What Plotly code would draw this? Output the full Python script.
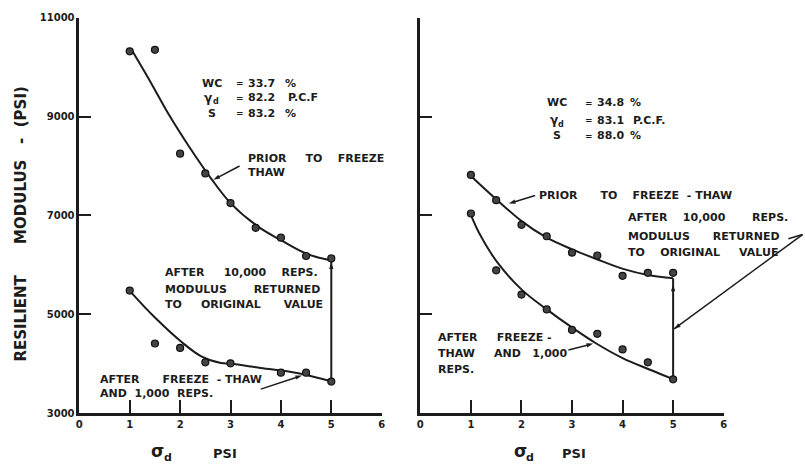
import plotly.graph_objects as go

# Deviator stress levels (psi)
stress = [1, 1.5, 2, 2.5, 3, 3.5, 4, 4.5, 5]

# Specimen A -- measured resilient modulus (psi)
a_prior = [10320, 10350, 8250, 7850, 7250, 6750, 6550, 6180, 6130]
a_after_stress = [1, 1.5, 2, 2.5, 3, 4, 4.5, 5]
a_after = [5480, 4410, 4320, 4030, 4010, 3820, 3820, 3640]

# Specimen A -- hand-fitted curves
a_prior_fit_x = [1.05, 1.44, 1.77, 2.16, 2.62, 3.01, 3.54, 4.0, 4.52, 5.0]
a_prior_fit_y = [10330, 9650, 9050, 8420, 7740, 7240, 6780, 6500, 6220, 6090]
a_after_fit_x = [1.04, 1.5, 2.03, 2.42, 2.81, 3.01, 3.6, 4.32, 5.0]
a_after_fit_y = [5430, 4935, 4440, 4150, 4015, 4000, 3915, 3815, 3645]

# Specimen B -- measured resilient modulus (psi)
b_prior = [7820, 7310, 6810, 6580, 6250, 6190, 5780, 5840, 5840]
b_after = [7040, 5890, 5400, 5100, 4685, 4605, 4290, 4030, 3685]

# Specimen B -- hand-fitted curves
b_prior_fit_x = [1.0, 1.51, 2.01, 2.5, 2.99, 3.48, 4.01, 4.53, 5.0]
b_prior_fit_y = [7800, 7320, 6880, 6550, 6320, 6120, 5920, 5790, 5730]
b_after_fit_x = [1.0, 1.16, 1.52, 2.01, 2.5, 2.99, 3.48, 4.01, 4.53, 5.0]
b_after_fit_y = [7010, 6650, 6055, 5495, 5100, 4740, 4410, 4110, 3885, 3690]

# Specimen properties: water content (%), dry unit weight (pcf), saturation (%)
a_props = ["33.7", "82.2", "83.2"]
b_props = ["34.8", "83.1", "88.0"]
a_units = ["%", "P.C.F", "%"]
b_units = ["%", "P.C.F.", "%"]

x_ticks = [0, 1, 2, 3, 4, 5, 6]
y_ticks = [3000, 5000, 7000, 9000, 11000]
X_RANGE = [0, 6]
Y_RANGE = [3000, 11000]

INK = "#1c1c1c"
FONT = "DejaVu Sans"

fig = go.Figure()
LINE = dict(color=INK, width=2)


def add_panel(xa, ya, px, py, ax_, ay_, fpx, fpy, fax, fay):
    kw = dict(xaxis=xa, yaxis=ya, showlegend=False, hoverinfo="skip")
    fig.add_trace(go.Scatter(x=fpx, y=fpy, mode="lines", line_shape="spline", line=LINE, **kw))
    fig.add_trace(go.Scatter(x=fax, y=fay, mode="lines", line_shape="spline", line=LINE, **kw))
    # recovery after 10,000 repetitions at the highest stress
    fig.add_trace(go.Scatter(x=[fax[-1], fpx[-1]], y=[fay[-1], fpy[-1]], mode="lines", line=LINE, **kw))
    mk = dict(symbol="circle", size=7, color="#444", line=dict(color="#111", width=1.2))
    fig.add_trace(go.Scatter(x=px, y=py, mode="markers", marker=mk, cliponaxis=False, **kw))
    fig.add_trace(go.Scatter(x=ax_, y=ay_, mode="markers", marker=mk, cliponaxis=False, **kw))


add_panel("x", "y", stress, a_prior, a_after_stress, a_after,
          a_prior_fit_x, a_prior_fit_y, a_after_fit_x, a_after_fit_y)
add_panel("x2", "y2", stress, b_prior, stress, b_after,
          b_prior_fit_x, b_prior_fit_y, b_after_fit_x, b_after_fit_y)

tickfont = dict(family=FONT, size=10, color=INK, weight="bold")
axis = dict(showgrid=False, zeroline=False, showline=True, linecolor=INK, linewidth=2.5,
            ticks="inside", tickcolor=INK, tickwidth=2, tickfont=tickfont, fixedrange=True)

x_dom_a = [77 / 805, 382 / 805]
x_dom_b = [421 / 805, 727 / 805]
y_dom = [52 / 470, 457 / 470]

fig.update_layout(
    width=805, height=470,
    margin=dict(l=0, r=0, t=0, b=0),
    paper_bgcolor="white", plot_bgcolor="white",
    xaxis=dict(axis, domain=x_dom_a, range=X_RANGE, tickvals=x_ticks,
               ticktext=[str(v) for v in x_ticks], ticklen=13, anchor="y"),
    yaxis=dict(axis, domain=y_dom, range=Y_RANGE, tickvals=y_ticks,
               ticktext=[str(v) for v in y_ticks], ticklen=12, anchor="x"),
    xaxis2=dict(axis, domain=x_dom_b, range=X_RANGE, tickvals=x_ticks,
                ticktext=[str(v) for v in x_ticks], ticklen=13, anchor="y2"),
    yaxis2=dict(axis, domain=y_dom, range=Y_RANGE, tickvals=y_ticks, ticklen=12, anchor="x2",
                showticklabels=False),
)

NB = "\u00a0"


def sp(*words_and_gaps):
    # words separated by runs of non-breaking spaces
    out = ""
    for item in words_and_gaps:
        out += NB * item if isinstance(item, int) else item
    return out


annotations = []
shapes = []


def note(text, x, y, xr, yr, anchor="left", size=11, yshift=0):
    annotations.append(dict(text=text, x=x, y=y, xref=xr, yref=yr, xanchor=anchor,
                            yanchor="middle", showarrow=False, yshift=yshift,
                            font=dict(family=FONT, size=size, color=INK, weight="bold")))


def arrow_tip(tail, head, xa, ya, with_line=True):
    # a leader line (optional) finished by an arrowhead pointing at `head`
    fig.add_trace(go.Scatter(
        x=[tail[0], head[0]], y=[tail[1], head[1]], xaxis=xa, yaxis=ya,
        mode="lines+markers" if with_line else "markers",
        line=dict(color=INK, width=1.5),
        marker=dict(symbol="arrow", size=[0, 7], opacity=[0, 1], color=INK,
                    angleref="previous", line=dict(width=0)),
        cliponaxis=False, showlegend=False, hoverinfo="skip"))


def dom(x, y):
    return (x - X_RANGE[0]) / (X_RANGE[1] - X_RANGE[0]), (y - Y_RANGE[0]) / (Y_RANGE[1] - Y_RANGE[0])


def props_block(xr, yr, rows_y, name_x, eq_x, val_x, unit_x, values, units):
    note("WC", name_x, rows_y[0], xr, yr, anchor="center")
    note("γ", name_x + 0.05, rows_y[1], xr, yr, anchor="right", size=12)
    note("d", name_x - 0.02, rows_y[1], xr, yr, anchor="left", size=8, yshift=-4)
    note("S", name_x, rows_y[2], xr, yr, anchor="center")
    for yy, val, unit, ux in zip(rows_y, values, units, unit_x):
        note("=", eq_x, yy, xr, yr, anchor="center", size=9)
        note(val, val_x, yy, xr, yr)
        note(unit, ux, yy, xr, yr)


# ---- left panel text ----
props_block("x", "y", [9676, 9379, 9063], 2.63, 3.18, 3.30, [4.05, 4.11, 4.05], a_props, a_units)

note(sp("PRIOR", 5, "TO", 4, "FREEZE"), 3.30, 8155, "x", "y")
note("THAW", 3.30, 7878, "x", "y")
arrow_tip((3.18, 8000), (2.66, 7720), "x", "y")

note(sp("AFTER", 5, "10,000", 4, "REPS."), 1.67, 5844, "x", "y")
note(sp("MODULUS", 7, "RETURNED"), 1.67, 5508, "x", "y")
note(sp("TO", 5, "ORIGINAL", 6, "VALUE"), 1.67, 5192, "x", "y")

note(sp("AFTER", 6, "FREEZE", 2, "-", 1, "THAW"), 0.37, 3691, "x", "y")
note(sp("AND", 2, "1,000", 2, "REPS."), 0.37, 3395, "x", "y")
arrow_tip((3.60, 3487), (4.42, 3764), "x", "y")

# arrowhead on the recovery line
arrow_tip((5, a_prior_fit_y[-1] - 600), (5, a_prior_fit_y[-1] - 40), "x", "y", with_line=False)

# ---- right panel text ----
props_block("x2", "y2", [9281, 8925, 8609], 2.71, 3.34, 3.46, [4.1, 4.17, 4.1], b_props, b_units)

note(sp("PRIOR", 6, "TO", 4, "FREEZE", 2, "-", 1, "THAW"), 2.30, 7404, "x2", "y2")
arrow_tip((2.27, 7404), (1.75, 7240), "x2", "y2")

note(sp("AFTER", 4, "10,000", 7, "REPS."), 4.07, 6950, "x2", "y2")
note(sp("MODULUS", 6, "RETURNED"), 4.07, 6575, "x2", "y2")
note(sp("TO", 4, "ORIGINAL", 5, "VALUE"), 4.07, 6259, "x2", "y2")

note(sp("AFTER", 5, "FREEZE", 1, "-"), 0.31, 4541, "x2", "y2")
note(sp("THAW", 5, "AND", 3, "1,000"), 0.31, 4205, "x2", "y2")
note("REPS.", 0.31, 3889, "x2", "y2")
arrow_tip((2.93, 4277), (3.42, 4408), "x2", "y2")

arrow_tip((5, b_prior_fit_y[-1] - 700), (5, b_prior_fit_y[-1] - 130), "x2", "y2", with_line=False)

# bent leader from "RETURNED" out past the frame and back to the recovery line
bend = (7.56, 6614)
ret_head = (5.02, 4704)
for p0, p1 in [((7.28, 6529), bend), (bend, ret_head)]:
    x0, y0 = dom(*p0)
    x1, y1 = dom(*p1)
    shapes.append(dict(type="line", xref="x2 domain", yref="y2 domain",
                       x0=x0, y0=y0, x1=x1, y1=y1, line=dict(color=INK, width=1.5)))
arrow_tip(bend, ret_head, "x2", "y2", with_line=False)

# ---- axis titles ----
note(sp("RESILIENT", 6, "MODULUS", 3, "-", 2, "(PSI)"), 18 / 805, 1 - 224 / 470,
     "paper", "paper", anchor="center", size=15)
annotations[-1]["textangle"] = -90

for sigma_px, psi_px in ((147, 210), (513, 562)):
    note("σ", sigma_px / 805, 1 - 457 / 470, "paper", "paper", size=17)
    note("d", (sigma_px + 13) / 805, 1 - 457 / 470, "paper", "paper", size=11, yshift=-6)
    note("PSI", psi_px / 805, 1 - 459 / 470, "paper", "paper", size=13)

fig.update_layout(annotations=annotations, shapes=shapes)
fig.write_html("out.html")
